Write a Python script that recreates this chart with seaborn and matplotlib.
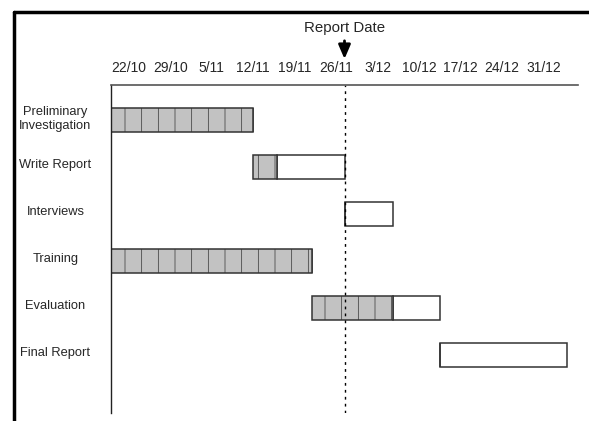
import matplotlib
matplotlib.use("Agg")
import matplotlib.pyplot as plt
import matplotlib.transforms as mtransforms
from matplotlib.lines import Line2D
import pandas as pd
import seaborn as sns

# days counted from 22/10
tasks = ["Preliminary\nInvestigation", "Write Report", "Interviews", "Training", "Evaluation", "Final Report"]
start = [0, 24, 39.5, 0, 34, 55.5]
done = [24, 28, 39.5, 34, 47.5, 55.5]
finish = [24, 39.5, 47.5, 34, 55.5, 77]
week_labels = ["22/10", "29/10", "5/11", "12/11", "19/11", "26/11", "3/12", "10/12", "17/12", "24/12", "31/12"]
report_day = 39.4

sns.set_style("white")
plt.rcParams['font.family'] = ['Liberation Sans', 'DejaVu Sans']
plt.rcParams['hatch.color'] = '#a6a6a6'
plt.rcParams['hatch.linewidth'] = 0.5

df = pd.DataFrame({"task": tasks, "start": start, "done": done, "finish": finish})
df["row"] = range(len(df))

fig = plt.figure(figsize=(5.89, 4.21), dpi=100)
ax = fig.add_axes([111 / 589, 1 - 413 / 421, (578 - 111) / 589, (413 - 85) / 421])

# remaining part (white)
ax.barh(df["row"], df["finish"] - df["done"], left=df["done"], height=0.5,
        color="white", edgecolor="#333333", linewidth=1.1)
# completed part (shaded)
ax.barh(df["row"], df["done"] - df["start"], left=df["start"], height=0.5,
        color="#c2c2c2", edgecolor="#333333", linewidth=1.1, hatch="|")

ax.axvline(report_day, color="black", ls=(0, (2, 3)), lw=1)

ax.set_xlim(0, 78.8)
ax.set_ylim(6.23, -0.75)

ax.xaxis.tick_top()
ax.set_xticks([7 * i + 3 for i in range(len(week_labels))])
ax.set_xticklabels(week_labels, fontsize=10)
ax.tick_params(axis="x", length=0, pad=7.5)

ax.set_yticks(df["row"])
ax.set_yticklabels(df["task"], fontsize=9.3, ha="center", multialignment="center")
ax.tick_params(axis="y", length=0, pad=40)
shift = mtransforms.ScaledTranslation(0, 4 / 100, fig.dpi_scale_trans)
for lab in ax.get_yticklabels():
    lab.set_transform(lab.get_transform() + shift)

for s in ["right", "bottom"]:
    ax.spines[s].set_visible(False)
ax.spines["top"].set_color("#555555")
ax.spines["top"].set_linewidth(1.2)
ax.spines["left"].set_color("#222222")
ax.spines["left"].set_linewidth(1.0)
ax.set_xlabel("")
ax.set_ylabel("")

ax.annotate("Report Date", xy=(report_day, 1 + 26 / 328), xycoords=("data", "axes fraction"),
            xytext=(0, 22.5), textcoords="offset points", ha="center", va="center", fontsize=10.8,
            arrowprops=dict(arrowstyle="-|>,head_length=0.7,head_width=0.3", color="black", lw=2,
                            mutation_scale=12, shrinkA=2, shrinkB=0), annotation_clip=False)

# screenshot frame
fig.add_artist(Line2D([14 / 589, 1], [1 - 12 / 421, 1 - 12 / 421], color="black", lw=2.5,
                      transform=fig.transFigure))
fig.add_artist(Line2D([14 / 589, 14 / 589], [0, 1 - 12 / 421], color="black", lw=2.5,
                      transform=fig.transFigure))

fig.savefig("out.png", dpi=100)
